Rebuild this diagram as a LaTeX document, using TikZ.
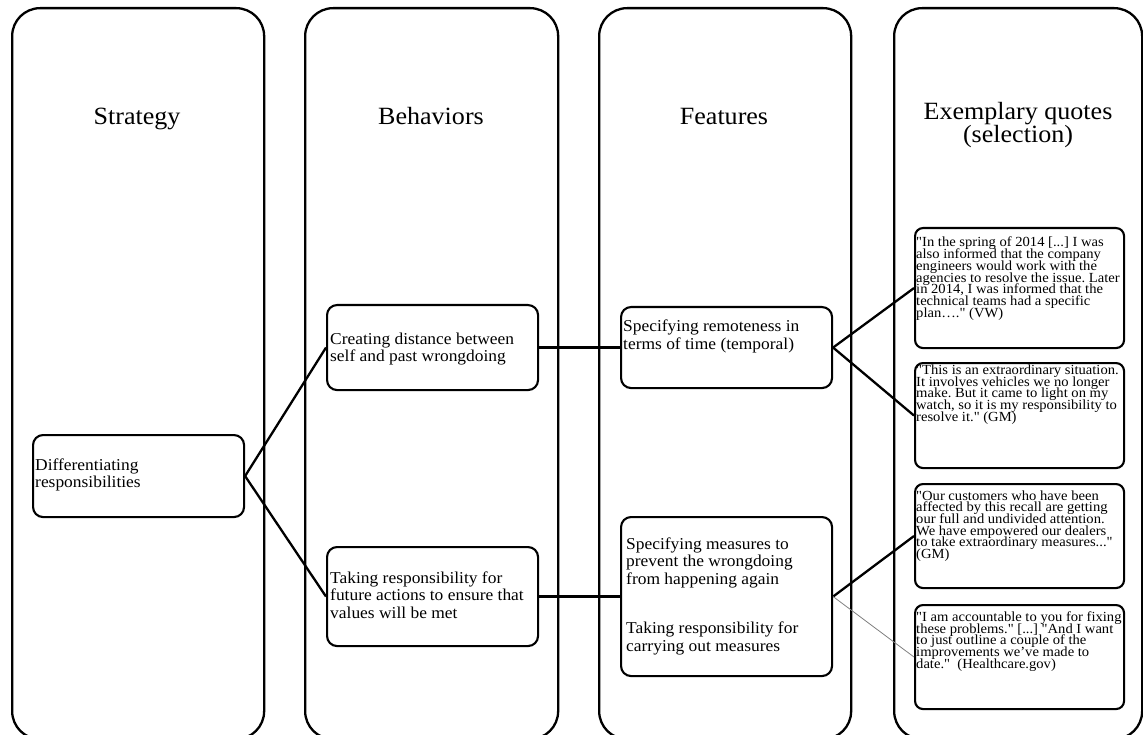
\documentclass[tikz,border=0pt]{standalone}
\usepackage{fontspec}
\newfontfamily\mainf{Liberation Serif}[FakeStretch=1.05]
\begin{document}
\frenchspacing
\lineskiplimit=-100pt
\begin{tikzpicture}[x=1pt,y=-1pt,
  col/.style={draw, line width=2.3pt, rounded corners=28pt, inner sep=0pt, anchor=north west},
  inbox/.style={draw, line width=2.1pt, rounded corners=10pt, inner sep=0pt, anchor=north west},
  qbox/.style={draw, line width=2.1pt, rounded corners=8pt, inner sep=0pt, anchor=north west},
  link/.style={line width=2.3pt},
  thinlink/.style={line width=0.8pt, gray},
  title/.style={font=\mainf\fontsize{24.8}{22.7}\selectfont, align=center, anchor=base, inner sep=0pt},
  btext/.style={font=\mainf\fontsize{16.6}{17.5}\selectfont, align=left, anchor=base west, inner sep=0pt},
  qtext/.style={font=\mainf\fontsize{13.9}{11.7}\selectfont, align=left, anchor=base west, inner sep=0pt}]
\useasboundingbox (0,0) rectangle (1143,735);
% columns
\node[col, minimum width=252pt, minimum height=731pt] (c1) at (11,7) {};
\node[col, minimum width=253pt, minimum height=731pt] (c2) at (304,7) {};
\node[col, minimum width=252pt, minimum height=731pt] (c3) at (598,7) {};
\node[col, minimum width=248pt, minimum height=731pt] (c4) at (893,7) {};
% titles (base = last line)
\node[title] (t1) at (137,125) {Strategy};
\node[title] (t2) at (431,125) {Behaviors};
\node[title] (t3) at (724,125) {Features};
\node[title] (t4) at (1018,142.7) {Exemplary quotes\\(selection)};
% inner boxes
\node[inbox, minimum width=211pt, minimum height=82pt] (diff) at (32,434) {};
\node[inbox, minimum width=211pt, minimum height=85pt] (create) at (326,304) {};
\node[inbox, minimum width=211pt, minimum height=99pt] (take) at (326,546) {};
\node[inbox, minimum width=211pt, minimum height=81pt] (remote) at (620,306) {};
\node[inbox, minimum width=211pt, minimum height=159pt] (measure) at (620,516) {};
% quote boxes
\node[qbox, minimum width=209pt, minimum height=120pt] (q1) at (914,227) {};
\node[qbox, minimum width=209pt, minimum height=105pt] (q2) at (914,362) {};
\node[qbox, minimum width=209pt, minimum height=104pt] (q3) at (914,483) {};
\node[qbox, minimum width=209pt, minimum height=104pt] (q4) at (914,604) {};
% texts (positioned by last baseline)
\node[btext] (difft) at (35,487.5) {Differentiating\\responsibilities};
\node[btext] (createt) at (330,361.5) {Creating distance between\\self and past wrongdoing};
\node[btext] (taket) at (330,618.3) {Taking responsibility for\\future actions to ensure that\\values will be met};
\node[btext] (remotet) at (623,349.2) {Specifying remoteness in\\terms of time (temporal)};
\node[btext] (measuret) at (626,584.3) {Specifying measures to\\prevent the wrongdoing\\from happening again};
\node[btext] (measuret2) at (626,651) {Taking responsibility for\\carrying out measures};
\node[qtext] (q1t) at (916,317.2) {"In the spring of 2014 [...] I was\\also informed that the company\\engineers would work with the\\agencies to resolve the issue. Later\\in 2014, I was informed that the\\technical teams had a specific\\plan…." (VW)};
\node[qtext] (q2t) at (916,421.3) {"This is an extraordinary situation.\\It involves vehicles we no longer\\make. But it came to light on my\\watch, so it is my responsibility to\\resolve it." (GM)};
\node[qtext] (q3t) at (916,558.5) {"Our customers who have been\\affected by this recall are getting\\our full and undivided attention.\\We have empowered our dealers\\to take extraordinary measures..."\\(GM)};
\node[qtext] (q4t) at (916,668.3) {"I am accountable to you for fixing\\these problems." [...] "And I want\\to just outline a couple of the\\improvements we’ve made to\\date."~ (Healthcare.gov)};
% connectors
\draw[link] (diff.east) -- (create.west);
\draw[link] (diff.east) -- (take.west);
\draw[link] (create.east) -- (remote.west);
\draw[link] (take.east) -- (measure.west);
\draw[link] (remote.east) -- (q1.west);
\draw[link] (remote.east) -- (q2.west);
\draw[link] (measure.east) -- (q3.west);
\draw[thinlink] (measure.east) -- (q4.west);
\end{tikzpicture}
\end{document}
